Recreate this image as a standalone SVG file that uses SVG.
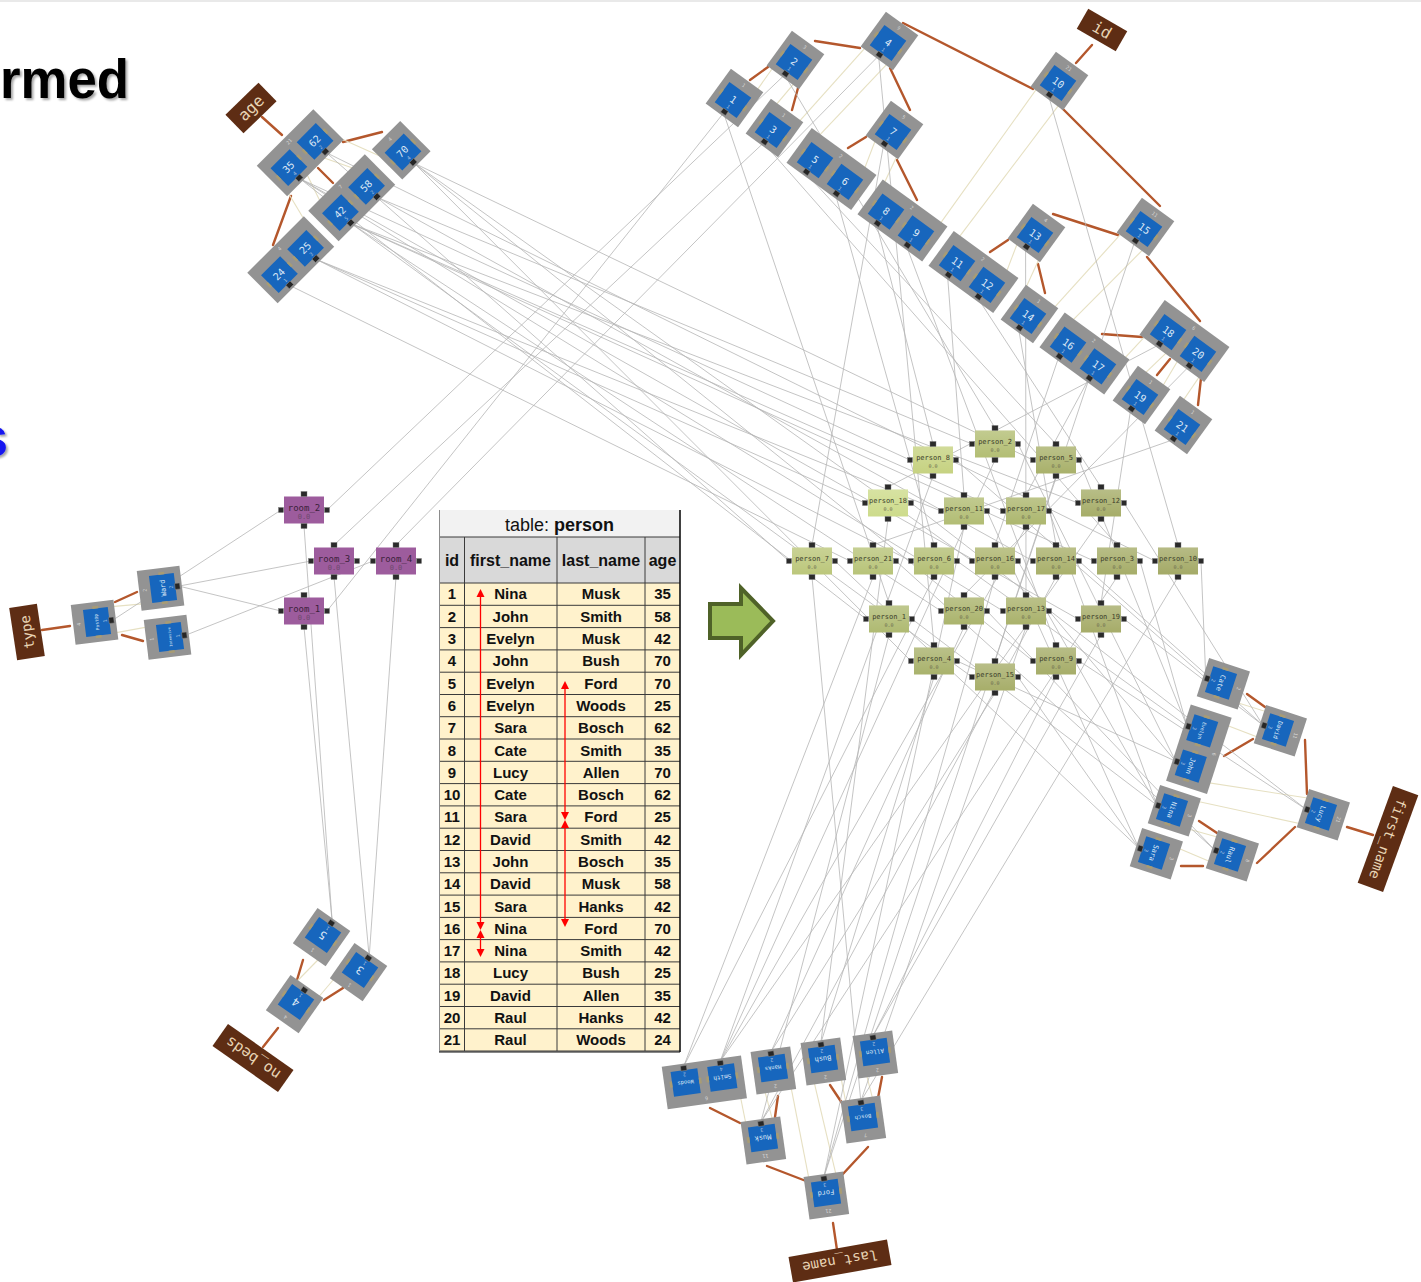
<svg xmlns="http://www.w3.org/2000/svg" xmlns:xlink="http://www.w3.org/1999/xlink" width="1421" height="1282" viewBox="0 0 1421 1282">
<style>
.box{fill:#939393}
.key{fill:#1766bd}
.mk{fill:#a89c74}
.port{fill:#262626;stroke:#8a8a8a;stroke-width:.5}
.kv{font-family:'DejaVu Sans Mono',monospace;fill:#dde8f6;text-anchor:middle}
.kc{font-family:'DejaVu Sans Mono',monospace;font-size:5px;fill:#a9c0dd;text-anchor:middle}
.bc{font-family:'DejaVu Sans Mono',monospace;font-size:5px;fill:#d6d6d6;text-anchor:middle}
.lb{fill:#5e2d14}
.lt{font-family:'DejaVu Sans Mono',monospace;fill:#e8d4b4;text-anchor:middle}
.tree{stroke:#b4572c;stroke-width:2.4;fill:none;stroke-linecap:round}
.chain{stroke:#e6e0c2;stroke-width:1.1;fill:none}
.link{stroke:#b5b5b5;stroke-width:.8;fill:none}
.pp{fill:#2b2b2b;stroke:#777;stroke-width:.4}
.pt{font-family:'DejaVu Sans Mono',monospace;font-size:7px;fill:#3c3c2a;text-anchor:middle}
.pz{font-family:'DejaVu Sans Mono',monospace;font-size:5px;fill:#6b6b50;text-anchor:middle}
.rb{fill:#9d5c9d}
.rt{font-family:'DejaVu Sans Mono',monospace;font-size:9px;fill:#3a1f3a;text-anchor:middle}
.rz{font-family:'DejaVu Sans Mono',monospace;font-size:7px;fill:#6e4a6e;text-anchor:middle}
.tc{font-family:'Liberation Sans',Arial,sans-serif;font-weight:700;font-size:15px;fill:#111;text-anchor:middle}
.th{font-family:'Liberation Sans',Arial,sans-serif;font-weight:700;font-size:16px;fill:#111;text-anchor:middle}
.grid{stroke:#3a3a3a;stroke-width:1}
.red{stroke:#ff0000;stroke-width:1.3}
</style>
<defs>
<linearGradient id="sheen" x1="0" y1="0" x2="0" y2="1">
<stop offset="0" stop-color="#ffffff" stop-opacity=".2"/>
<stop offset="1" stop-color="#ffffff" stop-opacity="0"/>
</linearGradient>
<filter id="shadow" x="-10%" y="-10%" width="130%" height="140%">
<feDropShadow dx="2" dy="2" stdDeviation="1.2" flood-color="#000" flood-opacity=".35"/>
</filter>
<!-- one-key index node: container, key box, chain markers, row port -->
<g id="one">
<rect class="box" x="-20" y="-24" width="40" height="43"/>
<rect class="key" x="-13.5" y="-12.5" width="27" height="25"/>
<rect class="mk" x="-16" y="-3" width="2.5" height="6"/>
<rect class="mk" x="13.5" y="-3" width="2.5" height="6"/>
<rect class="port" x="-3" y="12" width="6" height="5"/>
</g>
<!-- two-key index node -->
<g id="two">
<rect class="box" x="-40" y="-24" width="80" height="43"/>
<rect class="key" x="-32" y="-12.5" width="27" height="25"/>
<rect class="key" x="5" y="-12.5" width="27" height="25"/>
<rect class="mk" x="-34.5" y="-3" width="2.5" height="6"/>
<rect class="mk" x="-5" y="-3" width="2.5" height="6"/>
<rect class="mk" x="2.5" y="-3" width="2.5" height="6"/>
<rect class="mk" x="32" y="-3" width="2.5" height="6"/>
<rect class="port" x="-21.5" y="12" width="6" height="5"/>
<rect class="port" x="15.5" y="12" width="6" height="5"/>
</g>
<!-- four ports of a row node -->
<g id="ports">
<rect class="pp" x="-3" y="-18.5" width="6" height="5"/>
<rect class="pp" x="-3" y="13.5" width="6" height="5"/>
<rect class="pp" x="-25.5" y="-2.5" width="5" height="5"/>
<rect class="pp" x="20.5" y="-2.5" width="5" height="5"/>
</g>
</defs>

<rect x="0" y="0" width="1421" height="1282" fill="#ffffff"/>
<line x1="0" y1="1" x2="1421" y2="1" stroke="#e2e2e2" stroke-width="1.5"/>

<!-- slide headline fragments -->
<text x="0" y="98" font-family="'Liberation Sans',Arial,sans-serif" font-weight="700" font-size="56" textLength="129" lengthAdjust="spacingAndGlyphs" fill="#000" filter="url(#shadow)">rmed</text>
<text x="-23" y="456" font-family="'Liberation Sans',Arial,sans-serif" font-weight="700" font-size="56" fill="#1414f0" filter="url(#shadow)">s</text>

<!-- transform arrow -->
<polygon points="710,604 741,604 741,588 773,621 741,655 741,638 710,638" fill="#9bbb59" stroke="#4f6228" stroke-width="4" stroke-linejoin="miter"/>

<g id="connectors">
<g id="tree-edges">
<line class="tree" x1="262" y1="117" x2="282" y2="135"/>
<line class="tree" x1="343" y1="142" x2="382" y2="132"/>
<line class="tree" x1="318" y1="168" x2="333" y2="183"/>
<line class="tree" x1="291" y1="196" x2="273" y2="245"/>
<line class="tree" x1="1092" y1="45" x2="1076" y2="63"/>
<line class="tree" x1="750" y1="80" x2="768" y2="67"/>
<line class="tree" x1="815" y1="41" x2="860" y2="48"/>
<line class="tree" x1="798" y1="88" x2="792" y2="110"/>
<line class="tree" x1="903" y1="23" x2="1033" y2="89"/>
<line class="tree" x1="890" y1="68" x2="910" y2="110"/>
<line class="tree" x1="866" y1="137" x2="848" y2="148"/>
<line class="tree" x1="897" y1="160" x2="917" y2="200"/>
<line class="tree" x1="1062" y1="108" x2="1160" y2="206"/>
<line class="tree" x1="1053" y1="214" x2="1118" y2="235"/>
<line class="tree" x1="990" y1="252" x2="1008" y2="240"/>
<line class="tree" x1="1038" y1="264" x2="1045" y2="293"/>
<line class="tree" x1="1147" y1="257" x2="1200" y2="321"/>
<line class="tree" x1="1102" y1="334" x2="1142" y2="337"/>
<line class="tree" x1="1170" y1="359" x2="1157" y2="375"/>
<line class="tree" x1="1201" y1="378" x2="1198" y2="405"/>
<line class="tree" x1="42" y1="630" x2="70" y2="626"/>
<line class="tree" x1="115" y1="602" x2="137" y2="592"/>
<line class="tree" x1="122" y1="635" x2="143" y2="641"/>
<line class="tree" x1="263" y1="1047" x2="278" y2="1028"/>
<line class="tree" x1="303" y1="960" x2="297" y2="980"/>
<line class="tree" x1="343" y1="988" x2="324" y2="1000"/>
<line class="tree" x1="833" y1="1223" x2="837" y2="1250"/>
<line class="tree" x1="710" y1="1108" x2="740" y2="1123"/>
<line class="tree" x1="778" y1="1096" x2="775" y2="1117"/>
<line class="tree" x1="767" y1="1166" x2="806" y2="1181"/>
<line class="tree" x1="868" y1="1147" x2="842" y2="1175"/>
<line class="tree" x1="830" y1="1085" x2="842" y2="1103"/>
<line class="tree" x1="882" y1="1077" x2="878" y2="1098"/>
<line class="tree" x1="1347" y1="827" x2="1373" y2="835"/>
<line class="tree" x1="1247" y1="694" x2="1265" y2="707"/>
<line class="tree" x1="1224" y1="756" x2="1253" y2="739"/>
<line class="tree" x1="1305" y1="740" x2="1307" y2="794"/>
<line class="tree" x1="1199" y1="821" x2="1217" y2="833"/>
<line class="tree" x1="1181" y1="866" x2="1203" y2="866"/>
<line class="tree" x1="1257" y1="863" x2="1295" y2="827"/>
</g>
<g id="key-chains">
<line class="chain" x1="289.3" y1="264.7" x2="295.7" y2="258.3"/>
<line class="chain" x1="315.5" y1="238.5" x2="279" y2="177.5"/>
<line class="chain" x1="298.8" y1="157.7" x2="330.5" y2="222.5"/>
<line class="chain" x1="350.3" y1="202.7" x2="356.7" y2="196.3"/>
<line class="chain" x1="376.5" y1="176.5" x2="305.2" y2="151.3"/>
<line class="chain" x1="325" y1="131.5" x2="393.1" y2="161.9"/>
<line class="chain" x1="744.3" y1="108.2" x2="782.7" y2="53.8"/>
<line class="chain" x1="805.3" y1="70.2" x2="761.7" y2="121.8"/>
<line class="chain" x1="784.3" y1="138.2" x2="876.7" y2="34.8"/>
<line class="chain" x1="899.3" y1="51.2" x2="803.7" y2="151.9"/>
<line class="chain" x1="826.3" y1="168.3" x2="833.7" y2="173.7"/>
<line class="chain" x1="856.3" y1="190.1" x2="881.7" y2="123.8"/>
<line class="chain" x1="904.3" y1="140.2" x2="874.7" y2="203.4"/>
<line class="chain" x1="897.3" y1="219.8" x2="904.7" y2="225.2"/>
<line class="chain" x1="927.3" y1="241.6" x2="1046.7" y2="74.8"/>
<line class="chain" x1="1069.3" y1="91.2" x2="945.7" y2="254.9"/>
<line class="chain" x1="968.3" y1="271.3" x2="975.7" y2="276.7"/>
<line class="chain" x1="998.3" y1="293.1" x2="1023.7" y2="226.8"/>
<line class="chain" x1="1046.3" y1="243.2" x2="1016.7" y2="307.8"/>
<line class="chain" x1="1039.3" y1="324.2" x2="1132.7" y2="220.8"/>
<line class="chain" x1="1155.3" y1="237.2" x2="1056.7" y2="336.4"/>
<line class="chain" x1="1079.3" y1="352.8" x2="1086.7" y2="358.2"/>
<line class="chain" x1="1109.3" y1="374.6" x2="1156.7" y2="323.9"/>
<line class="chain" x1="1179.3" y1="340.3" x2="1128.7" y2="388.8"/>
<line class="chain" x1="1151.3" y1="405.2" x2="1186.7" y2="345.7"/>
<line class="chain" x1="1209.3" y1="362.1" x2="1170.7" y2="418.8"/>
<line class="chain" x1="1216.7" y1="696.3" x2="1282.3" y2="716.7"/>
<line class="chain" x1="1273.7" y1="743.3" x2="1206.5" y2="717.6"/>
<line class="chain" x1="1197.9" y1="744.2" x2="1195.1" y2="752.8"/>
<line class="chain" x1="1186.5" y1="779.4" x2="1325.3" y2="800.7"/>
<line class="chain" x1="1316.7" y1="827.3" x2="1176.3" y2="796.7"/>
<line class="chain" x1="1167.7" y1="823.3" x2="1234.3" y2="841.7"/>
<line class="chain" x1="1225.7" y1="868.3" x2="1158.3" y2="839.7"/>
<line class="chain" x1="861.1" y1="1053.9" x2="876.9" y2="1115.1"/>
<line class="chain" x1="849.1" y1="1118.9" x2="836.9" y2="1057.1"/>
<line class="chain" x1="809.1" y1="1060.9" x2="839.9" y2="1191.1"/>
<line class="chain" x1="812.1" y1="1194.9" x2="786.9" y2="1066.1"/>
<line class="chain" x1="759.1" y1="1069.9" x2="776.9" y2="1136.1"/>
<line class="chain" x1="749.1" y1="1139.9" x2="736.2" y2="1075.5"/>
<line class="chain" x1="708.4" y1="1079.3" x2="699.6" y2="1080.7"/>
<line class="chain" x1="348.5" y1="962" x2="307.5" y2="1010"/>
<line class="chain" x1="284.5" y1="994" x2="334.5" y2="943"/>
<line class="chain" x1="168.3" y1="623.1" x2="98.7" y2="635.9"/>
<line class="chain" x1="95.3" y1="608.1" x2="164.7" y2="601.9"/>
</g>
<g id="row-links">
<!-- id -> person -->
<line class="link" x1="723.6" y1="112.9" x2="889" y2="603"/>
<line class="link" x1="784.6" y1="74.9" x2="995" y2="428"/>
<line class="link" x1="763.6" y1="142.9" x2="1117" y2="545"/>
<line class="link" x1="878.6" y1="55.9" x2="934" y2="645"/>
<line class="link" x1="805.6" y1="173" x2="1056" y2="444"/>
<line class="link" x1="835.6" y1="194.8" x2="934" y2="545"/>
<line class="link" x1="883.6" y1="144.9" x2="812" y2="545"/>
<line class="link" x1="876.6" y1="224.5" x2="933" y2="444"/>
<line class="link" x1="906.6" y1="246.3" x2="1056" y2="645"/>
<line class="link" x1="1048.6" y1="95.9" x2="1178" y2="545"/>
<line class="link" x1="947.6" y1="276" x2="964" y2="495"/>
<line class="link" x1="977.6" y1="297.8" x2="1101" y2="487"/>
<line class="link" x1="1025.6" y1="247.9" x2="1026" y2="595"/>
<line class="link" x1="1018.6" y1="328.9" x2="1056" y2="545"/>
<line class="link" x1="1134.6" y1="241.9" x2="995" y2="661"/>
<line class="link" x1="1058.6" y1="357.5" x2="995" y2="545"/>
<line class="link" x1="1088.6" y1="379.3" x2="1026" y2="495"/>
<line class="link" x1="1158.6" y1="345" x2="888" y2="487"/>
<line class="link" x1="1130.6" y1="409.9" x2="1101" y2="603"/>
<line class="link" x1="1188.6" y1="366.8" x2="964" y2="595"/>
<line class="link" x1="1172.6" y1="439.9" x2="873" y2="545"/>
<!-- age -> person -->
<line class="link" x1="300.2" y1="178.9" x2="866" y2="619"/>
<line class="link" x1="300.2" y1="178.9" x2="910" y2="460"/>
<line class="link" x1="300.2" y1="178.9" x2="1003" y2="611"/>
<line class="link" x1="300.2" y1="178.9" x2="1078" y2="619"/>
<line class="link" x1="377.9" y1="197.7" x2="972" y2="444"/>
<line class="link" x1="377.9" y1="197.7" x2="1033" y2="561"/>
<line class="link" x1="351.7" y1="223.9" x2="1094" y2="561"/>
<line class="link" x1="351.7" y1="223.9" x2="1078" y2="503"/>
<line class="link" x1="351.7" y1="223.9" x2="972" y2="677"/>
<line class="link" x1="351.7" y1="223.9" x2="1003" y2="511"/>
<line class="link" x1="351.7" y1="223.9" x2="941" y2="611"/>
<line class="link" x1="414.3" y1="163.3" x2="911" y2="661"/>
<line class="link" x1="414.3" y1="163.3" x2="1033" y2="460"/>
<line class="link" x1="414.3" y1="163.3" x2="1033" y2="661"/>
<line class="link" x1="414.3" y1="163.3" x2="972" y2="561"/>
<line class="link" x1="316.9" y1="259.7" x2="911" y2="561"/>
<line class="link" x1="316.9" y1="259.7" x2="941" y2="511"/>
<line class="link" x1="316.9" y1="259.7" x2="865" y2="503"/>
<line class="link" x1="326.4" y1="152.7" x2="789" y2="561"/>
<line class="link" x1="326.4" y1="152.7" x2="1155" y2="561"/>
<line class="link" x1="290.7" y1="285.9" x2="850" y2="561"/>
<!-- first_name -> person -->
<line class="link" x1="1156.8" y1="805.1" x2="912" y2="619"/>
<line class="link" x1="1156.8" y1="805.1" x2="1018" y2="561"/>
<line class="link" x1="1156.8" y1="805.1" x2="1049" y2="511"/>
<line class="link" x1="1175.6" y1="761.2" x2="1018" y2="444"/>
<line class="link" x1="1175.6" y1="761.2" x2="957" y2="661"/>
<line class="link" x1="1175.6" y1="761.2" x2="1049" y2="611"/>
<line class="link" x1="1187" y1="726" x2="1140" y2="561"/>
<line class="link" x1="1187" y1="726" x2="1079" y2="460"/>
<line class="link" x1="1187" y1="726" x2="957" y2="561"/>
<line class="link" x1="1138.8" y1="848.1" x2="835" y2="561"/>
<line class="link" x1="1138.8" y1="848.1" x2="987" y2="511"/>
<line class="link" x1="1138.8" y1="848.1" x2="1018" y2="677"/>
<line class="link" x1="1205.8" y1="678.1" x2="956" y2="460"/>
<line class="link" x1="1205.8" y1="678.1" x2="1201" y2="561"/>
<line class="link" x1="1305.8" y1="809.1" x2="1079" y2="661"/>
<line class="link" x1="1305.8" y1="809.1" x2="911" y2="503"/>
<line class="link" x1="1262.8" y1="725.1" x2="1124" y2="503"/>
<line class="link" x1="1262.8" y1="725.1" x2="1079" y2="561"/>
<line class="link" x1="1262.8" y1="725.1" x2="1124" y2="619"/>
<line class="link" x1="1214.8" y1="850.1" x2="987" y2="611"/>
<line class="link" x1="1214.8" y1="850.1" x2="896" y2="561"/>
<!-- last_name -> person -->
<line class="link" x1="760.8" y1="1122.2" x2="889" y2="635"/>
<line class="link" x1="760.8" y1="1122.2" x2="1117" y2="577"/>
<line class="link" x1="760.8" y1="1122.2" x2="1056" y2="577"/>
<line class="link" x1="720.1" y1="1061.6" x2="995" y2="460"/>
<line class="link" x1="720.1" y1="1061.6" x2="933" y2="476"/>
<line class="link" x1="720.1" y1="1061.6" x2="1101" y2="519"/>
<line class="link" x1="720.1" y1="1061.6" x2="1026" y2="527"/>
<line class="link" x1="820.8" y1="1043.2" x2="934" y2="677"/>
<line class="link" x1="820.8" y1="1043.2" x2="888" y2="519"/>
<line class="link" x1="823.8" y1="1177.2" x2="1056" y2="476"/>
<line class="link" x1="823.8" y1="1177.2" x2="964" y2="527"/>
<line class="link" x1="823.8" y1="1177.2" x2="995" y2="577"/>
<line class="link" x1="683.5" y1="1066.8" x2="934" y2="577"/>
<line class="link" x1="683.5" y1="1066.8" x2="873" y2="577"/>
<line class="link" x1="860.8" y1="1101.2" x2="812" y2="577"/>
<line class="link" x1="860.8" y1="1101.2" x2="1178" y2="577"/>
<line class="link" x1="860.8" y1="1101.2" x2="1026" y2="627"/>
<line class="link" x1="872.8" y1="1036.2" x2="1056" y2="677"/>
<line class="link" x1="872.8" y1="1036.2" x2="1101" y2="635"/>
<line class="link" x1="770.8" y1="1052.2" x2="995" y2="693"/>
<line class="link" x1="770.8" y1="1052.2" x2="964" y2="627"/>
<!-- room links -->
<line class="link" x1="327" y1="611" x2="723.6" y2="112.9"/>
<line class="link" x1="327" y1="510" x2="784.6" y2="74.9"/>
<line class="link" x1="334" y1="545" x2="763.6" y2="142.9"/>
<line class="link" x1="396" y1="545" x2="878.6" y2="55.9"/>
<line class="link" x1="112.9" y1="620.1" x2="281" y2="510"/>
<line class="link" x1="178.9" y1="586.1" x2="311" y2="561"/>
<line class="link" x1="178.9" y1="586.1" x2="281" y2="611"/>
<line class="link" x1="185.9" y1="635.1" x2="373" y2="561"/>
<line class="link" x1="304" y1="526" x2="332.2" y2="921.9"/>
<line class="link" x1="304" y1="627" x2="332.2" y2="921.9"/>
<line class="link" x1="334" y1="577" x2="369.2" y2="956.9"/>
<line class="link" x1="396" y1="577" x2="369.2" y2="956.9"/>
</g>
</g>

<!-- column labels -->
<g id="label-age" transform="translate(251,108) rotate(-44)"><rect class="lb" x="-23" y="-13" width="46" height="26"/><text class="lt" y="5.5" font-size="16">age</text></g>
<g id="label-id" transform="translate(1102,30) rotate(30)"><rect class="lb" x="-22.5" y="-11.5" width="45" height="23"/><text class="lt" y="5.5" font-size="16">id</text></g>
<g id="label-type" transform="translate(27,632) rotate(-98.6)"><rect class="lb" x="-26.5" y="-14" width="53" height="28"/><text class="lt" y="5" font-size="14">type</text></g>
<g id="label-no_beds" transform="translate(253,1058) rotate(215)"><rect class="lb" x="-40" y="-13.5" width="80" height="27"/><text class="lt" y="5" font-size="15">no_beds</text></g>
<g id="label-last_name" transform="translate(840,1261) rotate(170)"><rect class="lb" x="-50" y="-13" width="100" height="26"/><text class="lt" y="5" font-size="14">last_name</text></g>
<g id="label-first_name" transform="translate(1388,839) rotate(110)"><rect class="lb" x="-51.5" y="-13.5" width="103" height="27"/><text class="lt" y="5" font-size="14">first_name</text></g>

<!-- age index -->
<g id="age-35-62" transform="translate(302,154.5) rotate(-45)"><use href="#two"/><text class="kv" x="-18.5" y="3" font-size="10">35</text><text class="kc" x="-18.5" y="10">4</text><text class="kv" x="18.5" y="3" font-size="10">62</text><text class="kc" x="18.5" y="10">2</text><text class="bc" y="-16.5">21</text></g>
<g id="age-42-58" transform="translate(353.5,199.5) rotate(-45)"><use href="#two"/><text class="kv" x="-18.5" y="3" font-size="10">42</text><text class="kc" x="-18.5" y="10">5</text><text class="kv" x="18.5" y="3" font-size="10">58</text><text class="kc" x="18.5" y="10">2</text><text class="bc" y="-16.5">7</text></g>
<g id="age-24-25" transform="translate(292.5,261.5) rotate(-45)"><use href="#two"/><text class="kv" x="-18.5" y="3" font-size="10">24</text><text class="kc" x="-18.5" y="10">1</text><text class="kv" x="18.5" y="3" font-size="10">25</text><text class="kc" x="18.5" y="10">3</text><text class="bc" y="-16.5">4</text></g>
<g id="age-70" transform="translate(403,152) rotate(-45)"><use href="#one"/><text class="kv" y="3" font-size="10">70</text><text class="kc" y="10">4</text><text class="bc" y="-16.5">4</text></g>

<!-- id index -->
<g id="id-1" transform="translate(733,100) rotate(36)"><use href="#one"/><text class="kv" y="3" font-size="10">1</text><text class="kc" y="10">1</text><text class="bc" y="-16.5">1</text></g>
<g id="id-2" transform="translate(794,62) rotate(36)"><use href="#one"/><text class="kv" y="3" font-size="10">2</text><text class="kc" y="10">1</text><text class="bc" y="-16.5">3</text></g>
<g id="id-3" transform="translate(773,130) rotate(36)"><use href="#one"/><text class="kv" y="3" font-size="10">3</text><text class="kc" y="10">1</text><text class="bc" y="-16.5">1</text></g>
<g id="id-4" transform="translate(888,43) rotate(36)"><use href="#one"/><text class="kv" y="3" font-size="10">4</text><text class="kc" y="10">1</text><text class="bc" y="-16.5">9</text></g>
<g id="id-5-6" transform="translate(830,171) rotate(36)"><use href="#two"/><text class="kv" x="-18.5" y="3" font-size="10">5</text><text class="kc" x="-18.5" y="10">1</text><text class="kv" x="18.5" y="3" font-size="10">6</text><text class="kc" x="18.5" y="10">1</text><text class="bc" y="-16.5">2</text></g>
<g id="id-7" transform="translate(893,132) rotate(36)"><use href="#one"/><text class="kv" y="3" font-size="10">7</text><text class="kc" y="10">1</text><text class="bc" y="-16.5">5</text></g>
<g id="id-8-9" transform="translate(901,222.5) rotate(36)"><use href="#two"/><text class="kv" x="-18.5" y="3" font-size="10">8</text><text class="kc" x="-18.5" y="10">1</text><text class="kv" x="18.5" y="3" font-size="10">9</text><text class="kc" x="18.5" y="10">1</text><text class="bc" y="-16.5">2</text></g>
<g id="id-10" transform="translate(1058,83) rotate(36)"><use href="#one"/><text class="kv" y="3" font-size="10">10</text><text class="kc" y="10">1</text><text class="bc" y="-16.5">21</text></g>
<g id="id-11-12" transform="translate(972,274) rotate(36)"><use href="#two"/><text class="kv" x="-18.5" y="3" font-size="10">11</text><text class="kc" x="-18.5" y="10">1</text><text class="kv" x="18.5" y="3" font-size="10">12</text><text class="kc" x="18.5" y="10">1</text><text class="bc" y="-16.5">2</text></g>
<g id="id-13" transform="translate(1035,235) rotate(36)"><use href="#one"/><text class="kv" y="3" font-size="10">13</text><text class="kc" y="10">1</text><text class="bc" y="-16.5">4</text></g>
<g id="id-14" transform="translate(1028,316) rotate(36)"><use href="#one"/><text class="kv" y="3" font-size="10">14</text><text class="kc" y="10">1</text><text class="bc" y="-16.5">1</text></g>
<g id="id-15" transform="translate(1144,229) rotate(36)"><use href="#one"/><text class="kv" y="3" font-size="10">15</text><text class="kc" y="10">1</text><text class="bc" y="-16.5">11</text></g>
<g id="id-16-17" transform="translate(1083,355.5) rotate(36)"><use href="#two"/><text class="kv" x="-18.5" y="3" font-size="10">16</text><text class="kc" x="-18.5" y="10">1</text><text class="kv" x="18.5" y="3" font-size="10">17</text><text class="kc" x="18.5" y="10">1</text><text class="bc" y="-16.5">2</text></g>
<g id="id-18-20" transform="translate(1183,343) rotate(36)"><use href="#two"/><text class="kv" x="-18.5" y="3" font-size="10">18</text><text class="kc" x="-18.5" y="10">1</text><text class="kv" x="18.5" y="3" font-size="10">20</text><text class="kc" x="18.5" y="10">1</text><text class="bc" y="-16.5">6</text></g>
<g id="id-19" transform="translate(1140,397) rotate(36)"><use href="#one"/><text class="kv" y="3" font-size="10">19</text><text class="kc" y="10">1</text><text class="bc" y="-16.5">1</text></g>
<g id="id-21" transform="translate(1182,427) rotate(36)"><use href="#one"/><text class="kv" y="3" font-size="10">21</text><text class="kc" y="10">1</text><text class="bc" y="-16.5">1</text></g>

<!-- first_name index -->
<g id="fn-Cate" transform="translate(1221,683) rotate(108)"><use href="#one"/><text class="kv" y="2.5" font-size="7">Cate</text><text class="kc" y="10">2</text><text class="bc" y="-16.5">2</text></g>
<g id="fn-David" transform="translate(1278,730) rotate(108)"><use href="#one"/><text class="kv" y="2.2" font-size="6.2">David</text><text class="kc" y="10">3</text><text class="bc" y="-16.5">11</text></g>
<g id="fn-Evelyn-John" transform="translate(1196.5,748.5) rotate(108)"><use href="#two"/><text class="kv" x="-18.5" y="2" font-size="5">Evelyn</text><text class="kc" x="-18.5" y="10">3</text><text class="kv" x="18.5" y="2.5" font-size="7">John</text><text class="kc" x="18.5" y="10">3</text><text class="bc" y="-16.5">6</text></g>
<g id="fn-Nina" transform="translate(1172,810) rotate(108)"><use href="#one"/><text class="kv" y="2.5" font-size="7">Nina</text><text class="kc" y="10">3</text><text class="bc" y="-16.5">3</text></g>
<g id="fn-Sara" transform="translate(1154,853) rotate(108)"><use href="#one"/><text class="kv" y="2.5" font-size="7">Sara</text><text class="kc" y="10">3</text><text class="bc" y="-16.5">3</text></g>
<g id="fn-Raul" transform="translate(1230,855) rotate(108)"><use href="#one"/><text class="kv" y="2.5" font-size="7">Raul</text><text class="kc" y="10">2</text><text class="bc" y="-16.5">8</text></g>
<g id="fn-Lucy" transform="translate(1321,814) rotate(108)"><use href="#one"/><text class="kv" y="2.5" font-size="7">Lucy</text><text class="kc" y="10">2</text><text class="bc" y="-16.5">21</text></g>

<!-- last_name index -->
<g id="ln-Smith-Woods" transform="translate(704,1080) rotate(172)"><use href="#two"/><text class="kv" x="-18.5" y="2.2" font-size="6">Smith</text><text class="kc" x="-18.5" y="10">4</text><text class="kv" x="18.5" y="2" font-size="5.5">Woods</text><text class="kc" x="18.5" y="10">2</text><text class="bc" y="-16.5">6</text></g>
<g id="ln-Musk" transform="translate(763,1138) rotate(172)"><use href="#one"/><text class="kv" y="2.5" font-size="7">Musk</text><text class="kc" y="10">3</text><text class="bc" y="-16.5">11</text></g>
<g id="ln-Hanks" transform="translate(773,1068) rotate(172)"><use href="#one"/><text class="kv" y="2" font-size="5.5">Hanks</text><text class="kc" y="10">2</text><text class="bc" y="-16.5">2</text></g>
<g id="ln-Bush" transform="translate(823,1059) rotate(172)"><use href="#one"/><text class="kv" y="2.5" font-size="7">Bush</text><text class="kc" y="10">2</text><text class="bc" y="-16.5">2</text></g>
<g id="ln-Allen" transform="translate(875,1052) rotate(172)"><use href="#one"/><text class="kv" y="2.2" font-size="6">Allen</text><text class="kc" y="10">2</text><text class="bc" y="-16.5">2</text></g>
<g id="ln-Bosch" transform="translate(863,1117) rotate(172)"><use href="#one"/><text class="kv" y="2" font-size="5.5">Bosch</text><text class="kc" y="10">3</text><text class="bc" y="-16.5">7</text></g>
<g id="ln-Ford" transform="translate(826,1193) rotate(172)"><use href="#one"/><text class="kv" y="2.5" font-size="7">Ford</text><text class="kc" y="10">3</text><text class="bc" y="-16.5">21</text></g>

<!-- no_beds index -->
<g id="nb-5" transform="translate(323,935) rotate(215)"><use href="#one"/><text class="kv" y="3.5" font-size="11">5</text><text class="kc" y="10">1</text><text class="bc" y="-16.5">1</text></g>
<g id="nb-3" transform="translate(360,970) rotate(215)"><use href="#one"/><text class="kv" y="3.5" font-size="11">3</text><text class="kc" y="10">1</text><text class="bc" y="-16.5">1</text></g>
<g id="nb-4" transform="translate(296,1002) rotate(215)"><use href="#one"/><text class="kv" y="3.5" font-size="11">4</text><text class="kc" y="10">1</text><text class="bc" y="-16.5">4</text></g>

<!-- type index -->
<g id="type-PostOp" transform="translate(97,622) rotate(-97)"><use href="#one"/><text class="kv" y="1.5" font-size="4.5">PostOp</text><text class="kc" y="10">1</text><text class="bc" y="-16.5">4</text></g>
<g id="type-Ward" transform="translate(163,588) rotate(-97)"><use href="#one"/><text class="kv" y="2.5" font-size="7">Ward</text><text class="kc" y="10">2</text><text class="bc" y="-16.5">2</text></g>
<g id="type-Intensive" transform="translate(170,637) rotate(-97)"><use href="#one"/><text class="kv" y="1.3" font-size="3.6">Intensive</text><text class="kc" y="10">1</text><text class="bc" y="-16.5">1</text></g>

<!-- room rows -->
<g id="room_2" transform="translate(304,510)"><rect class="rb" x="-20" y="-13.5" width="40" height="27"/><use href="#ports"/><text class="rt" y="1">room_2</text><text class="rz" y="9">0.0</text></g>
<g id="room_3" transform="translate(334,561)"><rect class="rb" x="-20" y="-13.5" width="40" height="27"/><use href="#ports"/><text class="rt" y="1">room_3</text><text class="rz" y="9">0.0</text></g>
<g id="room_4" transform="translate(396,561)"><rect class="rb" x="-20" y="-13.5" width="40" height="27"/><use href="#ports"/><text class="rt" y="1">room_4</text><text class="rz" y="9">0.0</text></g>
<g id="room_1" transform="translate(304,611)"><rect class="rb" x="-20" y="-13.5" width="40" height="27"/><use href="#ports"/><text class="rt" y="1">room_1</text><text class="rz" y="9">0.0</text></g>

<!-- person rows -->
<g id="person_8" transform="translate(933,460)"><rect x="-20" y="-13.5" width="40" height="27" fill="#c6d281"/><rect x="-20" y="-13.5" width="40" height="27" fill="url(#sheen)"/><use href="#ports"/><text class="pt" y="0">person_8</text><text class="pz" y="8">0.0</text></g>
<g id="person_2" transform="translate(995,444)"><rect x="-20" y="-13.5" width="40" height="27" fill="#b3be74"/><rect x="-20" y="-13.5" width="40" height="27" fill="url(#sheen)"/><use href="#ports"/><text class="pt" y="0">person_2</text><text class="pz" y="8">0.0</text></g>
<g id="person_5" transform="translate(1056,460)"><rect x="-20" y="-13.5" width="40" height="27" fill="#a9b16b"/><rect x="-20" y="-13.5" width="40" height="27" fill="url(#sheen)"/><use href="#ports"/><text class="pt" y="0">person_5</text><text class="pz" y="8">0.0</text></g>
<g id="person_18" transform="translate(888,503)"><rect x="-20" y="-13.5" width="40" height="27" fill="#cddb8b"/><rect x="-20" y="-13.5" width="40" height="27" fill="url(#sheen)"/><use href="#ports"/><text class="pt" y="0">person_18</text><text class="pz" y="8">0.0</text></g>
<g id="person_11" transform="translate(964,511)"><rect x="-20" y="-13.5" width="40" height="27" fill="#b2bd74"/><rect x="-20" y="-13.5" width="40" height="27" fill="url(#sheen)"/><use href="#ports"/><text class="pt" y="0">person_11</text><text class="pz" y="8">0.0</text></g>
<g id="person_17" transform="translate(1026,511)"><rect x="-20" y="-13.5" width="40" height="27" fill="#adb76f"/><rect x="-20" y="-13.5" width="40" height="27" fill="url(#sheen)"/><use href="#ports"/><text class="pt" y="0">person_17</text><text class="pz" y="8">0.0</text></g>
<g id="person_12" transform="translate(1101,503)"><rect x="-20" y="-13.5" width="40" height="27" fill="#a6ad69"/><rect x="-20" y="-13.5" width="40" height="27" fill="url(#sheen)"/><use href="#ports"/><text class="pt" y="0">person_12</text><text class="pz" y="8">0.0</text></g>
<g id="person_7" transform="translate(812,561)"><rect x="-20" y="-13.5" width="40" height="27" fill="#bcc77b"/><rect x="-20" y="-13.5" width="40" height="27" fill="url(#sheen)"/><use href="#ports"/><text class="pt" y="0">person_7</text><text class="pz" y="8">0.0</text></g>
<g id="person_21" transform="translate(873,561)"><rect x="-20" y="-13.5" width="40" height="27" fill="#b8c479"/><rect x="-20" y="-13.5" width="40" height="27" fill="url(#sheen)"/><use href="#ports"/><text class="pt" y="0">person_21</text><text class="pz" y="8">0.0</text></g>
<g id="person_6" transform="translate(934,561)"><rect x="-20" y="-13.5" width="40" height="27" fill="#b4bf75"/><rect x="-20" y="-13.5" width="40" height="27" fill="url(#sheen)"/><use href="#ports"/><text class="pt" y="0">person_6</text><text class="pz" y="8">0.0</text></g>
<g id="person_16" transform="translate(995,561)"><rect x="-20" y="-13.5" width="40" height="27" fill="#adb56e"/><rect x="-20" y="-13.5" width="40" height="27" fill="url(#sheen)"/><use href="#ports"/><text class="pt" y="0">person_16</text><text class="pz" y="8">0.0</text></g>
<g id="person_14" transform="translate(1056,561)"><rect x="-20" y="-13.5" width="40" height="27" fill="#a9b06b"/><rect x="-20" y="-13.5" width="40" height="27" fill="url(#sheen)"/><use href="#ports"/><text class="pt" y="0">person_14</text><text class="pz" y="8">0.0</text></g>
<g id="person_3" transform="translate(1117,561)"><rect x="-20" y="-13.5" width="40" height="27" fill="#a6ad69"/><rect x="-20" y="-13.5" width="40" height="27" fill="url(#sheen)"/><use href="#ports"/><text class="pt" y="0">person_3</text><text class="pz" y="8">0.0</text></g>
<g id="person_10" transform="translate(1178,561)"><rect x="-20" y="-13.5" width="40" height="27" fill="#a4aa67"/><rect x="-20" y="-13.5" width="40" height="27" fill="url(#sheen)"/><use href="#ports"/><text class="pt" y="0">person_10</text><text class="pz" y="8">0.0</text></g>
<g id="person_1" transform="translate(889,619)"><rect x="-20" y="-13.5" width="40" height="27" fill="#afba72"/><rect x="-20" y="-13.5" width="40" height="27" fill="url(#sheen)"/><use href="#ports"/><text class="pt" y="0">person_1</text><text class="pz" y="8">0.0</text></g>
<g id="person_20" transform="translate(964,611)"><rect x="-20" y="-13.5" width="40" height="27" fill="#abb46d"/><rect x="-20" y="-13.5" width="40" height="27" fill="url(#sheen)"/><use href="#ports"/><text class="pt" y="0">person_20</text><text class="pz" y="8">0.0</text></g>
<g id="person_13" transform="translate(1026,611)"><rect x="-20" y="-13.5" width="40" height="27" fill="#aab26c"/><rect x="-20" y="-13.5" width="40" height="27" fill="url(#sheen)"/><use href="#ports"/><text class="pt" y="0">person_13</text><text class="pz" y="8">0.0</text></g>
<g id="person_19" transform="translate(1101,619)"><rect x="-20" y="-13.5" width="40" height="27" fill="#a6ac69"/><rect x="-20" y="-13.5" width="40" height="27" fill="url(#sheen)"/><use href="#ports"/><text class="pt" y="0">person_19</text><text class="pz" y="8">0.0</text></g>
<g id="person_4" transform="translate(934,661)"><rect x="-20" y="-13.5" width="40" height="27" fill="#a9b26c"/><rect x="-20" y="-13.5" width="40" height="27" fill="url(#sheen)"/><use href="#ports"/><text class="pt" y="0">person_4</text><text class="pz" y="8">0.0</text></g>
<g id="person_15" transform="translate(995,677)"><rect x="-20" y="-13.5" width="40" height="27" fill="#a7ae6a"/><rect x="-20" y="-13.5" width="40" height="27" fill="url(#sheen)"/><use href="#ports"/><text class="pt" y="0">person_15</text><text class="pz" y="8">0.0</text></g>
<g id="person_9" transform="translate(1056,661)"><rect x="-20" y="-13.5" width="40" height="27" fill="#a6ad69"/><rect x="-20" y="-13.5" width="40" height="27" fill="url(#sheen)"/><use href="#ports"/><text class="pt" y="0">person_9</text><text class="pz" y="8">0.0</text></g>

<!-- source table -->
<g id="table-person">
<rect x="439" y="510" width="241" height="27" fill="#f2f2f2"/>
<rect x="439" y="537" width="241" height="46" fill="#d9d9d9"/>
<rect x="439" y="583" width="241" height="468" fill="#fff2cc"/>
<text x="559.5" y="531" font-family="'Liberation Sans',Arial,sans-serif" font-size="18" fill="#111" text-anchor="middle">table: <tspan font-weight="700">person</tspan></text>
<text class="th" x="452" y="566">id</text>
<text class="th" x="510.5" y="566">first_name</text>
<text class="th" x="601" y="566">last_name</text>
<text class="th" x="662.5" y="566">age</text>
<g class="grid">
<line x1="439" y1="537" x2="680" y2="537"/>
<line x1="439" y1="583" x2="680" y2="583"/>
<line x1="439" y1="605.3" x2="680" y2="605.3"/>
<line x1="439" y1="627.6" x2="680" y2="627.6"/>
<line x1="439" y1="649.9" x2="680" y2="649.9"/>
<line x1="439" y1="672.2" x2="680" y2="672.2"/>
<line x1="439" y1="694.5" x2="680" y2="694.5"/>
<line x1="439" y1="716.7" x2="680" y2="716.7"/>
<line x1="439" y1="739" x2="680" y2="739"/>
<line x1="439" y1="761.3" x2="680" y2="761.3"/>
<line x1="439" y1="783.6" x2="680" y2="783.6"/>
<line x1="439" y1="805.9" x2="680" y2="805.9"/>
<line x1="439" y1="828.2" x2="680" y2="828.2"/>
<line x1="439" y1="850.5" x2="680" y2="850.5"/>
<line x1="439" y1="872.8" x2="680" y2="872.8"/>
<line x1="439" y1="895.1" x2="680" y2="895.1"/>
<line x1="439" y1="917.4" x2="680" y2="917.4"/>
<line x1="439" y1="939.6" x2="680" y2="939.6"/>
<line x1="439" y1="961.9" x2="680" y2="961.9"/>
<line x1="439" y1="984.2" x2="680" y2="984.2"/>
<line x1="439" y1="1006.5" x2="680" y2="1006.5"/>
<line x1="439" y1="1028.8" x2="680" y2="1028.8"/>
<line x1="439" y1="1051" x2="680" y2="1051"/>
<line x1="464.5" y1="537" x2="464.5" y2="1051"/>
<line x1="557" y1="537" x2="557" y2="1051"/>
<line x1="645" y1="537" x2="645" y2="1051"/>
</g>
<line x1="439.5" y1="510" x2="439.5" y2="1051" stroke="#8c8c8c" stroke-width="1"/>
<line x1="680" y1="510" x2="680" y2="1052" stroke="#111" stroke-width="1.6"/>
<line x1="439" y1="1052" x2="680" y2="1052" stroke="#111" stroke-width="1.2"/>
<g id="table-rows">
<text class="tc" x="452" y="599.4">1</text><text class="tc" x="510.5" y="599.4">Nina</text><text class="tc" x="601" y="599.4">Musk</text><text class="tc" x="662.5" y="599.4">35</text>
<text class="tc" x="452" y="621.7">2</text><text class="tc" x="510.5" y="621.7">John</text><text class="tc" x="601" y="621.7">Smith</text><text class="tc" x="662.5" y="621.7">58</text>
<text class="tc" x="452" y="644">3</text><text class="tc" x="510.5" y="644">Evelyn</text><text class="tc" x="601" y="644">Musk</text><text class="tc" x="662.5" y="644">42</text>
<text class="tc" x="452" y="666.3">4</text><text class="tc" x="510.5" y="666.3">John</text><text class="tc" x="601" y="666.3">Bush</text><text class="tc" x="662.5" y="666.3">70</text>
<text class="tc" x="452" y="688.6">5</text><text class="tc" x="510.5" y="688.6">Evelyn</text><text class="tc" x="601" y="688.6">Ford</text><text class="tc" x="662.5" y="688.6">70</text>
<text class="tc" x="452" y="710.9">6</text><text class="tc" x="510.5" y="710.9">Evelyn</text><text class="tc" x="601" y="710.9">Woods</text><text class="tc" x="662.5" y="710.9">25</text>
<text class="tc" x="452" y="733.2">7</text><text class="tc" x="510.5" y="733.2">Sara</text><text class="tc" x="601" y="733.2">Bosch</text><text class="tc" x="662.5" y="733.2">62</text>
<text class="tc" x="452" y="755.5">8</text><text class="tc" x="510.5" y="755.5">Cate</text><text class="tc" x="601" y="755.5">Smith</text><text class="tc" x="662.5" y="755.5">35</text>
<text class="tc" x="452" y="777.8">9</text><text class="tc" x="510.5" y="777.8">Lucy</text><text class="tc" x="601" y="777.8">Allen</text><text class="tc" x="662.5" y="777.8">70</text>
<text class="tc" x="452" y="800.1">10</text><text class="tc" x="510.5" y="800.1">Cate</text><text class="tc" x="601" y="800.1">Bosch</text><text class="tc" x="662.5" y="800.1">62</text>
<text class="tc" x="452" y="822.3">11</text><text class="tc" x="510.5" y="822.3">Sara</text><text class="tc" x="601" y="822.3">Ford</text><text class="tc" x="662.5" y="822.3">25</text>
<text class="tc" x="452" y="844.6">12</text><text class="tc" x="510.5" y="844.6">David</text><text class="tc" x="601" y="844.6">Smith</text><text class="tc" x="662.5" y="844.6">42</text>
<text class="tc" x="452" y="866.9">13</text><text class="tc" x="510.5" y="866.9">John</text><text class="tc" x="601" y="866.9">Bosch</text><text class="tc" x="662.5" y="866.9">35</text>
<text class="tc" x="452" y="889.2">14</text><text class="tc" x="510.5" y="889.2">David</text><text class="tc" x="601" y="889.2">Musk</text><text class="tc" x="662.5" y="889.2">58</text>
<text class="tc" x="452" y="911.5">15</text><text class="tc" x="510.5" y="911.5">Sara</text><text class="tc" x="601" y="911.5">Hanks</text><text class="tc" x="662.5" y="911.5">42</text>
<text class="tc" x="452" y="933.8">16</text><text class="tc" x="510.5" y="933.8">Nina</text><text class="tc" x="601" y="933.8">Ford</text><text class="tc" x="662.5" y="933.8">70</text>
<text class="tc" x="452" y="956.1">17</text><text class="tc" x="510.5" y="956.1">Nina</text><text class="tc" x="601" y="956.1">Smith</text><text class="tc" x="662.5" y="956.1">42</text>
<text class="tc" x="452" y="978.4">18</text><text class="tc" x="510.5" y="978.4">Lucy</text><text class="tc" x="601" y="978.4">Bush</text><text class="tc" x="662.5" y="978.4">25</text>
<text class="tc" x="452" y="1000.7">19</text><text class="tc" x="510.5" y="1000.7">David</text><text class="tc" x="601" y="1000.7">Allen</text><text class="tc" x="662.5" y="1000.7">35</text>
<text class="tc" x="452" y="1023">20</text><text class="tc" x="510.5" y="1023">Raul</text><text class="tc" x="601" y="1023">Hanks</text><text class="tc" x="662.5" y="1023">42</text>
<text class="tc" x="452" y="1045.2">21</text><text class="tc" x="510.5" y="1045.2">Raul</text><text class="tc" x="601" y="1045.2">Woods</text><text class="tc" x="662.5" y="1045.2">24</text>
</g>
<!-- duplicate-value markers -->
<g id="dup-marks" fill="#ff0000">
<line class="red" x1="480.5" y1="596" x2="480.5" y2="923"/>
<line class="red" x1="480.5" y1="937" x2="480.5" y2="950"/>
<polygon points="480.5,589 476.5,597 484.5,597"/>
<polygon points="476.5,922 484.5,922 480.5,930"/>
<polygon points="480.5,930 476.5,938 484.5,938"/>
<polygon points="476.5,949 484.5,949 480.5,957"/>
<line class="red" x1="565" y1="688" x2="565" y2="813"/>
<line class="red" x1="565" y1="827" x2="565" y2="920"/>
<polygon points="565,681 561,689 569,689"/>
<polygon points="561,812 569,812 565,820"/>
<polygon points="565,820 561,828 569,828"/>
<polygon points="561,919 569,919 565,927"/>
</g>
</g>
</svg>
